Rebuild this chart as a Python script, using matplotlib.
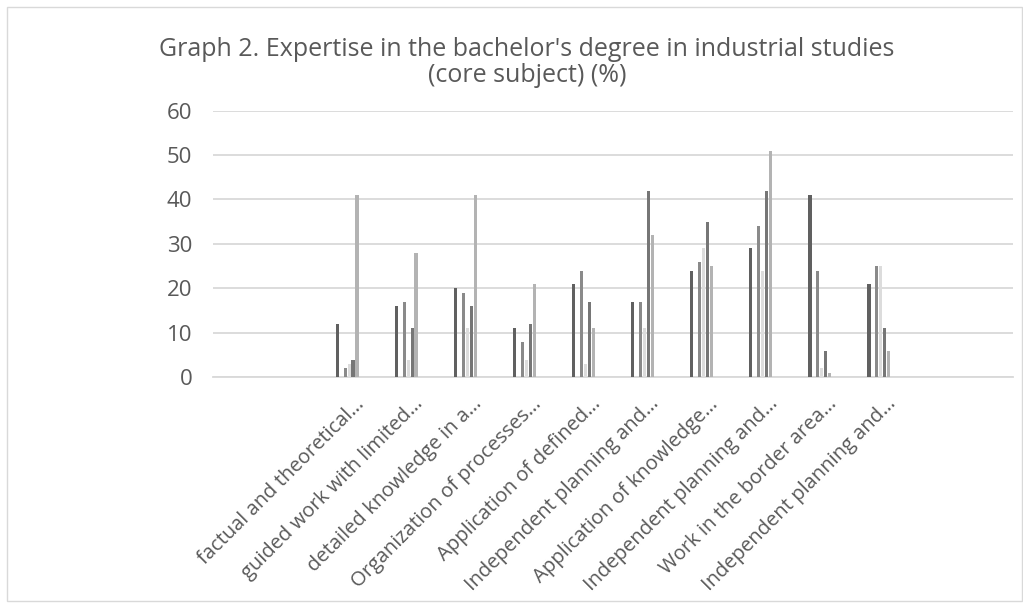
import matplotlib
matplotlib.use("Agg")
import matplotlib.pyplot as plt
import matplotlib.transforms as mtransforms
from matplotlib.patches import Rectangle
import numpy as np

plt.rcParams['font.family'] = ['Open Sans', 'DejaVu Sans']

categories = ["factual and theoretical…", "guided work with limited…",
              "detailed knowledge in a…", "Organization of processes…",
              "Application of defined…", "Independent planning and…",
              "Application of knowledge…", "Independent planning and…",
              "Work in the border area…", "Independent planning and…"]

# six series, the second one has no values in the source chart
s1 = [12, 16, 20, 11, 21, 17, 24, 29, 41, 21]
s2 = [0, 0, 0, 0, 0, 0, 0, 0, 0, 0]
s3 = [2, 17, 19, 8, 24, 17, 26, 34, 24, 25]
s4 = [3, 4, 11, 4, 3, 11, 29, 24, 2, 25]
s5 = [4, 11, 16, 12, 17, 42, 35, 42, 6, 11]
s6 = [41, 28, 41, 21, 11, 32, 25, 51, 1, 6]

series = [s1, s2, s3, s4, s5, s6]
colors = ['#606060', '#a0a0a0', '#8a8a8a', '#dcdcdc', '#767676', '#b3b3b3']
yticks = [0, 10, 20, 30, 40, 50, 60]

fig = plt.figure(figsize=(10.23, 6.08), dpi=100)
ax = fig.add_axes([213/1023, 1 - 377.3/608, 800/1023, (377.3 - 110.5)/608])

x = np.arange(len(categories))
slot = 0.4 / len(series)
for i, (vals, c) in enumerate(zip(series, colors)):
    ax.bar(x + slot * (i - 2.5), vals, width=slot * 0.8, color=c, zorder=3)

ax.set_ylim(0, 60)
ax.set_xlim(-2.27, 11.27)
ax.set_yticks(yticks)
ax.yaxis.grid(True, color='#d9d9d9', linewidth=1.3, zorder=0)
ax.set_axisbelow(True)
for sp in ['top', 'right', 'left']:
    ax.spines[sp].set_visible(False)
ax.spines['bottom'].set_color('#d9d9d9')
ax.spines['bottom'].set_linewidth(1.3)
ax.tick_params(axis='both', length=0, colors='#595959', labelsize=16)
ax.tick_params(axis='y', pad=15)

ax.set_xticks(x)
ax.set_xticklabels(categories, rotation=45, ha='right', va='center',
                   rotation_mode='anchor', color='#595959', fontsize=14.5)
offset = mtransforms.ScaledTranslation(14/100, -19/100, fig.dpi_scale_trans)
for lab in ax.get_xticklabels():
    lab.set_transform(lab.get_transform() + offset)

fig.text(0.515, 1 - 49/608, "Graph 2. Expertise in the bachelor's degree in industrial studies",
         ha='center', va='center', fontsize=18, color='#595959')
fig.text(0.515, 1 - 76/608, "(core subject) (%)",
         ha='center', va='center', fontsize=18, color='#595959')

fig.patches.append(Rectangle((7/1023, 7/608), 1 - 8/1023, 1 - 14/608,
                             transform=fig.transFigure, fill=False,
                             edgecolor='#d9d9d9', linewidth=1))

fig.savefig("out.png", dpi=100)
